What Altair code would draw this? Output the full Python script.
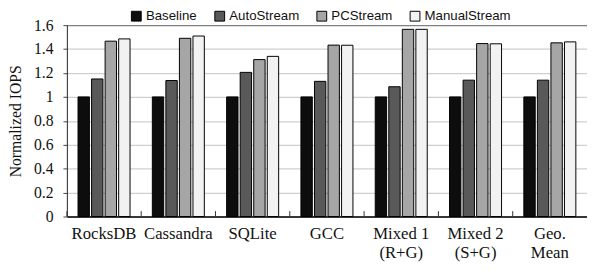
import altair as alt
import pandas as pd

categories = ["RocksDB", "Cassandra", "SQLite", "GCC", "Mixed 1\n(R+G)", "Mixed 2\n(S+G)", "Geo.\nMean"]
series = ["Baseline", "AutoStream", "PCStream", "ManualStream"]
baseline = [1.0, 1.0, 1.0, 1.0, 1.0, 1.0, 1.0]
autostream = [1.15, 1.137, 1.205, 1.13, 1.085, 1.14, 1.14]
pcstream = [1.466, 1.49, 1.312, 1.433, 1.565, 1.446, 1.452]
manualstream = [1.485, 1.509, 1.339, 1.432, 1.565, 1.444, 1.46]
colors = ["#0c0d0c", "#595959", "#a6a6a6", "#f2f2f2"]
y_ticks = [0, 0.2, 0.4, 0.6, 0.8, 1.0, 1.2, 1.4, 1.6]

rows = []
for s, vals in zip(series, [baseline, autostream, pcstream, manualstream]):
    for c, v in zip(categories, vals):
        rows.append({"cat": c, "series": s, "value": v})
df = pd.DataFrame(rows)
cat_df = pd.DataFrame({"cat": categories})

W = 530
step = W / len(categories)

x_scale = alt.Scale(domain=categories, paddingInner=0.3, paddingOuter=0.15)
y_scale = alt.Scale(domain=[0, 1.6], nice=False)

x_axis = alt.Axis(title=None, labelAngle=0, labelFont="Liberation Serif",
                  labelFontSize=17, labelColor="#111", labelLineHeight=20,
                  labelPadding=9, ticks=False, domainColor="#000",
                  domainWidth=1.5,
                  labelExpr="split(datum.label, '\\n')")
y_axis = alt.Axis(title="Normalized IOPS", values=y_ticks, format="~g",
                  labelOverlap=False,
                  titleFont="Liberation Serif", titleFontSize=16,
                  titleFontWeight="normal", titleColor="#111",
                  titlePadding=10,
                  labelFont="Liberation Serif", labelFontSize=16,
                  labelColor="#111", labelPadding=10, tickSize=4,
                  tickColor="#444", domainColor="#222",
                  gridColor={"condition": {"test": "datum.value > 1.55", "value": "#808080"},
                             "value": "#cfcfcf"},
                  gridWidth=1.3)

bars = alt.Chart(df).mark_bar(stroke="black", strokeWidth=1).encode(
    x=alt.X("cat:N", scale=x_scale, sort=categories, axis=x_axis),
    xOffset=alt.XOffset("series:N", sort=series, scale=alt.Scale(paddingInner=0.16)),
    y=alt.Y("value:Q", scale=y_scale, axis=y_axis),
    color=alt.Color("series:N", sort=series,
                    scale=alt.Scale(domain=series, range=colors),
                    legend=alt.Legend(title=None, orient="none", direction="horizontal",
                                      legendX=64, legendY=-16, symbolType="square",
                                      symbolSize=100, symbolStrokeColor="black",
                                      symbolStrokeWidth=1, labelFont="Liberation Sans",
                                      labelFontSize=13.5, labelColor="#111",
                                      labelOffset=3, columnPadding=15)),
)

ticks = alt.Chart(cat_df).mark_rule(color="#333", strokeWidth=1, xOffset=-step / 2).encode(
    x=alt.X("cat:N", scale=x_scale, sort=categories, axis=x_axis),
    y=alt.Y(datum=0, scale=y_scale, axis=y_axis),
    y2=alt.Y2(datum=0.045),
)

chart = alt.layer(bars, ticks).properties(
    width=W, height=195,
    autosize=alt.AutoSizeParams(type="none"),
    padding={"left": 60, "top": 15, "right": 0, "bottom": 50},
).configure_view(stroke=None)

chart.save("out.html", embed_options={"renderer": "svg", "actions": False})
